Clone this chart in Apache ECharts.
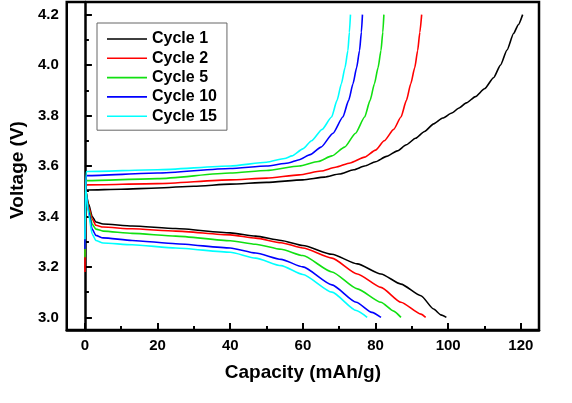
<!DOCTYPE html>
<html>
<head>
<meta charset="utf-8">
<script src="https://cdn.jsdelivr.net/npm/echarts@6/dist/echarts.min.js"></script>
<style>html,body{margin:0;padding:0;background:#fff}#c{width:572px;height:403px}</style>
</head>
<body>
<div id="c"></div>
<script>
var seriesNames = ['Cycle 1', 'Cycle 2', 'Cycle 5', 'Cycle 10', 'Cycle 15'];
var seriesColors = ['#000000', '#ff0000', '#11e011', '#0000ff', '#00ffff'];

var charge1 = [[0,3.40],[0.3,3.50],[0.6,3.505],[10,3.508],[20,3.513],[30,3.52],[40,3.528],[50,3.535],[60,3.545],[66,3.556],[70,3.568],[74,3.585],[77,3.60],[80,3.617],[83,3.638],[86,3.66],[88.5,3.684],[91,3.71],[93.5,3.737],[96,3.767],[98.5,3.79],[101,3.81],[103,3.83],[105,3.85],[107.5,3.875],[110,3.906],[112.5,3.95],[114.4,4.0],[116.2,4.06],[118,4.125],[119.3,4.16],[120.5,4.2]];
var charge2 = [[0,3.18],[0.3,3.52],[0.6,3.525],[20,3.53],[40,3.545],[50,3.552],[59,3.565],[65,3.58],[69,3.595],[73,3.612],[77,3.635],[80,3.663],[82.4,3.70],[85,3.745],[87,3.794],[88.5,3.86],[89.7,3.926],[90.8,3.99],[91.6,4.058],[92.2,4.13],[92.7,4.2]];
var charge5 = [[0,3.238],[0.3,3.54],[0.6,3.542],[20,3.55],[40,3.572],[50,3.582],[59,3.60],[64.2,3.618],[68,3.64],[71.5,3.675],[74.5,3.73],[77,3.794],[78.5,3.86],[79.7,3.926],[80.7,3.99],[81.5,4.058],[82,4.13],[82.3,4.2]];
var charge10 = [[0,3.271],[0.3,3.56],[0.6,3.562],[20,3.572],[40,3.59],[50,3.60],[56,3.612],[59,3.625],[62,3.645],[65,3.675],[68.3,3.73],[71,3.794],[72.6,3.86],[73.8,3.926],[74.8,3.99],[75.6,4.058],[76.1,4.13],[76.4,4.2]];
var charge15 = [[0,3.31],[0.3,3.575],[0.6,3.578],[20,3.585],[40,3.60],[50,3.615],[55,3.63],[57,3.64],[60,3.668],[62.4,3.70],[65.3,3.745],[67.9,3.794],[69.4,3.86],[70.6,3.926],[71.6,3.99],[72.4,4.058],[72.8,4.13],[73.1,4.2]];

var discharge1 = [[0.3,3.50],[1,3.45],[2,3.40],[3,3.378],[5,3.37],[13,3.362],[25,3.352],[40,3.335],[47,3.322],[54,3.305],[60,3.285],[68,3.25],[75,3.212],[81.5,3.172],[87,3.132],[92.5,3.086],[96,3.033],[98,3.01],[99.5,3.0]];
var discharge2 = [[0.3,3.50],[1,3.44],[2,3.39],[3,3.365],[5,3.358],[13,3.351],[25,3.342],[40,3.327],[47,3.314],[54,3.296],[60,3.275],[68,3.235],[75,3.172],[81.5,3.119],[87,3.06],[92.5,3.013],[93.8,3.0]];
var discharge5 = [[0.3,3.50],[1,3.43],[2,3.37],[3,3.35],[5,3.342],[13,3.333],[25,3.322],[40,3.304],[47,3.29],[54,3.27],[60,3.245],[68,3.18],[75,3.113],[81.5,3.06],[85,3.025],[87,3.0]];
var discharge10 = [[0.3,3.50],[1,3.42],[2,3.35],[3,3.325],[5,3.315],[13,3.305],[25,3.292],[40,3.275],[47,3.255],[54,3.23],[60,3.20],[68,3.129],[74.7,3.06],[79,3.02],[81.5,3.0]];
var discharge15 = [[0.3,3.50],[1,3.41],[2,3.33],[3,3.305],[5,3.295],[13,3.288],[25,3.275],[40,3.258],[47,3.235],[54,3.205],[60,3.17],[68,3.10],[74.7,3.027],[77.7,3.0]];

var xTicks = [0, 20, 40, 60, 80, 100, 120];
var xMinorTicks = [10, 30, 50, 70, 90, 110];
var yTicks = [3.0, 3.2, 3.4, 3.6, 3.8, 4.0, 4.2];
var yMinorTicks = [3.1, 3.3, 3.5, 3.7, 3.9, 4.1];

var chargeSets = [charge1, charge2, charge5, charge10, charge15];
var dischargeSets = [discharge1, discharge2, discharge5, discharge10, discharge15];

var FONT = 'Arial, "Liberation Sans", sans-serif';
var LINE_ICON = 'path://M0,0h0.01v0.01h-0.01z M0,6.2h40v1.6h-40z M39.99,13.99h0.01v0.01h-0.01z';
var series = [];
for (var i = 0; i < seriesNames.length; i++) {
  [chargeSets[i], dischargeSets[i]].forEach(function (d) {
    series.push({
      name: seriesNames[i], type: 'line', data: d, symbol: 'none', showSymbol: false,
      smooth: 0.2, smoothMonotone: 'x',
      xAxisIndex: 0, yAxisIndex: 0,
      lineStyle: { color: seriesColors[i], width: 1.6 },
      itemStyle: { color: seriesColors[i] },
      animation: false
    });
  });
}

var chart = echarts.init(document.getElementById('c'));
chart.setOption({
  backgroundColor: '#fff',
  animation: false,
  grid: { left: 63, right: 33, top: 2, bottom: 73, show: true, borderColor: '#000', borderWidth: 2.5, backgroundColor: 'transparent' },
  legend: {
    data: seriesNames.map(function (n) { return { name: n, icon: LINE_ICON }; }),
    left: 97, top: 23, orient: 'vertical',
    padding: [8, 10, 6, 10], itemWidth: 40, itemHeight: 14, itemGap: 3.3,
    borderColor: '#666', borderWidth: 1, borderRadius: 0,
    textStyle: { fontFamily: FONT, fontWeight: 'bold', fontSize: 16, lineHeight: 16, color: '#000' }
  },
  xAxis: [{
    type: 'value', min: -5, max: 125, position: 'bottom',
    name: 'Capacity (mAh/g)', nameLocation: 'middle', nameGap: 33,
    nameTextStyle: { fontFamily: FONT, fontWeight: 'bold', fontSize: 19, color: '#000' },
    axisLine: { show: true, lineStyle: { color: '#000', width: 2.5 } },
    axisTick: { show: true, inside: true, length: 7, customValues: xTicks, lineStyle: { color: '#000', width: 2 } },
    axisLabel: { show: true, margin: 8, customValues: xTicks, fontFamily: FONT, fontWeight: 'bold', fontSize: 15, color: '#000' },
    splitLine: { show: false }
  }, {
    type: 'value', min: -5, max: 125, position: 'bottom',
    axisLine: { show: false },
    axisTick: { show: true, inside: true, length: 4, customValues: xMinorTicks, lineStyle: { color: '#000', width: 2 } },
    axisLabel: { show: false },
    splitLine: { show: false }
  }],
  yAxis: [{
    type: 'value', min: 2.95, max: 4.25, position: 'left',
    name: 'Voltage (V)', nameLocation: 'middle', nameGap: 36,
    nameTextStyle: { fontFamily: FONT, fontWeight: 'bold', fontSize: 19, color: '#000', padding: [0, 8, 0, 0] },
    axisLine: { show: true, lineStyle: { color: '#000', width: 2.5 } },
    axisTick: { show: true, inside: true, length: 7, customValues: yTicks, lineStyle: { color: '#000', width: 2 } },
    axisLabel: { show: true, margin: 8, customValues: yTicks, formatter: function (v) { return v.toFixed(1); }, fontFamily: FONT, fontWeight: 'bold', fontSize: 15, color: '#000' },
    splitLine: { show: false }
  }, {
    type: 'value', min: 2.95, max: 4.25, position: 'left',
    axisLine: { show: false },
    axisTick: { show: true, inside: true, length: 4, customValues: yMinorTicks, lineStyle: { color: '#000', width: 2 } },
    axisLabel: { show: false },
    splitLine: { show: false }
  }],
  series: series
});
</script>
</body>
</html>
